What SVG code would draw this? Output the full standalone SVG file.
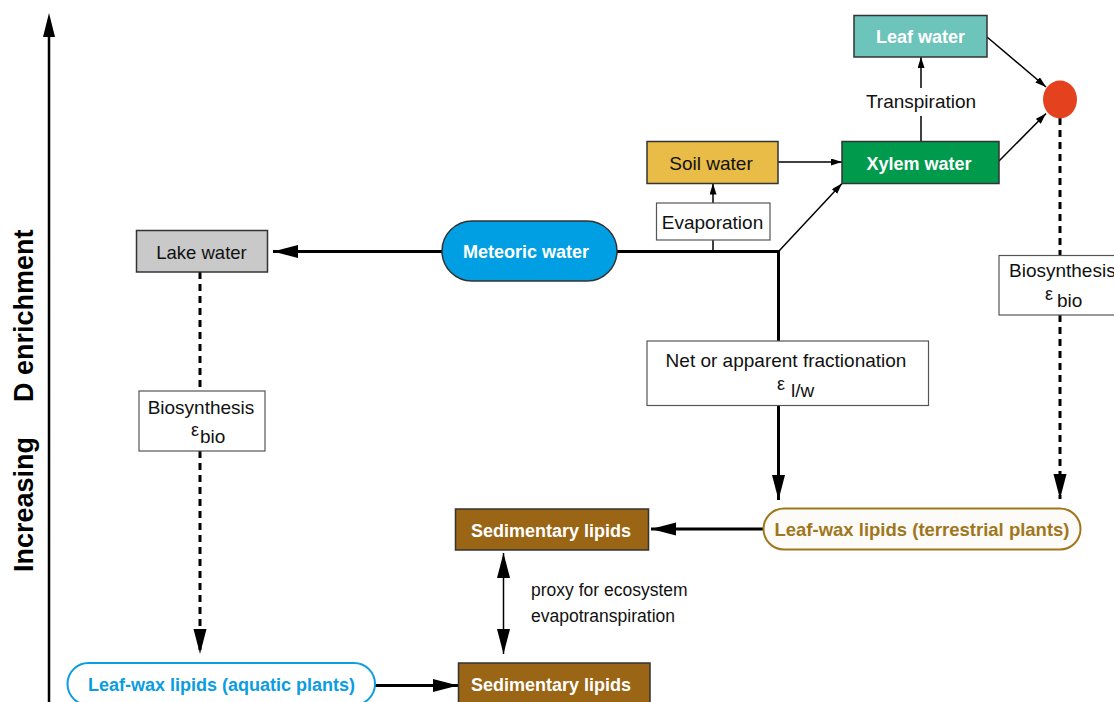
<svg xmlns="http://www.w3.org/2000/svg" width="1114" height="702" viewBox="0 0 1114 702">
<style>
text{font-family:"Liberation Sans",Arial,sans-serif;}
.r{font-size:19px;fill:#111;}
.b{font-size:18px;font-weight:bold;fill:#fff;}
.c{text-anchor:middle;}
.eps{font-size:18px;}
.box{stroke:#333;stroke-width:1.5;}
.lbl{fill:#fff;stroke:#555;stroke-width:1.2;}
.thick{fill:none;stroke:#000;stroke-width:3;}
.thin{fill:none;stroke:#000;stroke-width:1.5;}
.dash{fill:none;stroke:#000;stroke-width:3;stroke-dasharray:7 5;}
</style>
<defs>
<marker id="big" markerUnits="userSpaceOnUse" markerWidth="26" markerHeight="14" refX="25" refY="6.5" orient="auto-start-reverse" viewBox="0 0 26 14"><path d="M0,0 L25,6.5 L0,13 z" fill="#000"/></marker>
<marker id="sm" markerUnits="userSpaceOnUse" markerWidth="12" markerHeight="8" refX="11" refY="3.5" orient="auto" viewBox="0 0 12 8"><path d="M0,0 L11,3.5 L0,7 z" fill="#000"/></marker>
</defs>

<g id="axis">
<path d="M49,702 V30" stroke="#000" stroke-width="2.5" fill="none"/>
<path d="M43,37 L49,13 L55,37 z" fill="#000"/>
<text transform="translate(33,572) rotate(-90)" style="font-size:27px;font-weight:bold;fill:#000"><tspan x="0">Increasing</tspan><tspan x="170">D enrichment</tspan></text>
</g>

<g id="connectors">
<path class="thick" d="M442,251.5 H273" marker-end="url(#big)"/>
<path class="thick" d="M617,251.5 H778.5 V341"/>
<path class="thick" d="M778.5,405 V500" marker-end="url(#big)"/>
<path class="thin" d="M778.5,251.5 L842,183.5" marker-end="url(#sm)"/>
<path class="thin" d="M713,251.5 V240"/>
<path class="thin" d="M713,203 V183.5" marker-end="url(#sm)"/>
<path class="thin" d="M778,162 H842" marker-end="url(#sm)"/>
<path class="thin" d="M921,141 V116"/>
<path class="thin" d="M921,88 V57" marker-end="url(#sm)"/>
<path class="thin" d="M999,161 L1046,113.5" marker-end="url(#sm)"/>
<path class="thin" d="M987,37 L1046,87" marker-end="url(#sm)"/>
<path class="dash" d="M1060,118 V255"/>
<path class="dash" d="M1060,315 V499" marker-end="url(#big)"/>
<path class="thick" d="M763,529 H651" marker-end="url(#big)"/>
<path class="thin" d="M503.5,553 V654" marker-start="url(#big)" marker-end="url(#big)"/>
<path class="dash" d="M200,272 V391"/>
<path class="dash" d="M200,451 V654" marker-end="url(#big)"/>
<path class="thick" d="M375,685.5 H458" marker-end="url(#big)"/>
</g>

<g id="leaf-water">
<rect class="box" x="854" y="15.5" width="133" height="41.5" fill="#6cc4bb"/>
<text class="b c" x="920.5" y="43">Leaf water</text>
</g>
<g id="xylem-water">
<rect class="box" x="842" y="141.5" width="157" height="42" fill="#009a4c"/>
<text class="b c" x="919" y="170">Xylem water</text>
</g>
<g id="soil-water">
<rect class="box" x="647" y="141.5" width="131" height="42" fill="#e8bc47"/>
<text class="r c" x="711" y="169.5">Soil water</text>
</g>
<g id="evaporation">
<rect class="lbl" x="656.5" y="203" width="113.5" height="37"/>
<text class="r c" x="712.5" y="229">Evaporation</text>
</g>
<g id="transpiration">
<text class="r c" x="921" y="108">Transpiration</text>
</g>
<g id="node-circle">
<ellipse cx="1060" cy="99.5" rx="17" ry="19" fill="#e4411f"/>
</g>
<g id="biosynthesis-right">
<rect class="lbl" x="999" y="255.5" width="120" height="59.5"/>
<text class="r" x="1009" y="277">Biosynthesis</text>
<text class="r" x="1045" y="306.5"><tspan class="eps" dy="-7">ε</tspan><tspan x="1057" dy="7">bio</tspan></text>
</g>
<g id="meteoric-water">
<rect class="box" x="442" y="221" width="175" height="60" rx="30" fill="#009fe3"/>
<text class="b c" x="526" y="257.5">Meteoric water</text>
</g>
<g id="lake-water">
<rect class="box" x="136.5" y="230.5" width="131" height="41.5" fill="#c9c9c9"/>
<text class="r c" x="201.5" y="258.5" style="font-size:18.5px">Lake water</text>
</g>
<g id="biosynthesis-left">
<rect class="lbl" x="139" y="391" width="126" height="60"/>
<text class="r c" x="201" y="414">Biosynthesis</text>
<text class="r" x="191" y="442.5"><tspan class="eps" dy="-7">ε</tspan><tspan x="200" dy="7">bio</tspan></text>
</g>
<g id="net-fractionation">
<rect class="lbl" x="647" y="341" width="281.5" height="64.5"/>
<text class="r c" x="786" y="367">Net or apparent fractionation</text>
<text class="r" x="777" y="397"><tspan class="eps" dy="-7">ε</tspan><tspan x="791" dy="7">l/w</tspan></text>
</g>
<g id="leafwax-terrestrial">
<rect x="763.5" y="508.5" width="317" height="41" rx="20.5" fill="#fdfbf8" stroke="#a0761c" stroke-width="2"/>
<text class="c" x="922" y="535.5" style="font-size:18.5px;font-weight:bold;fill:#a0761c">Leaf-wax lipids (terrestrial plants)</text>
</g>
<g id="sedimentary-lipids-top">
<rect class="box" x="455.5" y="509" width="193" height="41" fill="#9a6616"/>
<text class="b c" x="551" y="536.5">Sedimentary lipids</text>
</g>
<g id="proxy-label">
<text class="r" x="531" y="596" style="font-size:17.5px">proxy for ecosystem</text>
<text class="r" x="531" y="621.5" style="font-size:17.5px">evapotranspiration</text>
</g>
<g id="leafwax-aquatic">
<rect x="67.5" y="663" width="307.5" height="42" rx="21" fill="#fff" stroke="#0b9de0" stroke-width="2"/>
<text class="c" x="221.5" y="690.5" style="font-size:18px;font-weight:bold;fill:#0b9de0">Leaf-wax lipids (aquatic plants)</text>
</g>
<g id="sedimentary-lipids-bottom">
<rect class="box" x="458.5" y="663" width="191.5" height="45" fill="#9a6616"/>
<text class="b c" x="551" y="690.5">Sedimentary lipids</text>
</g>
</svg>
